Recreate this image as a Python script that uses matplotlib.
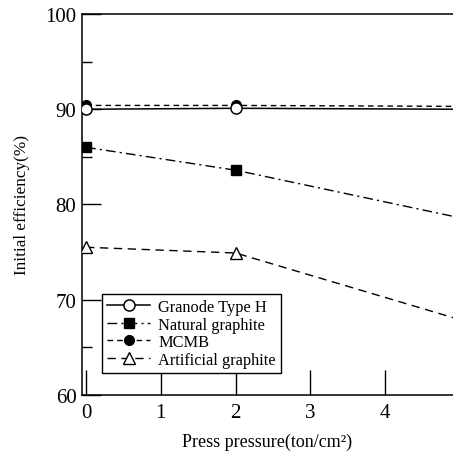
import matplotlib
matplotlib.use("Agg")
import matplotlib.pyplot as plt
from matplotlib.ticker import MultipleLocator

plt.rcParams['font.family'] = ['Liberation Serif', 'DejaVu Serif']

pressure = [0, 2, 5]
granode = [90.0, 90.1, 90.0]
natural = [86.0, 83.6, 78.6]
mcmb = [90.4, 90.4, 90.3]
artificial = [75.5, 74.9, 67.9]

fig = plt.figure(figsize=(4.53, 4.56), dpi=100)
ax = fig.add_axes([0.181, 0.132, 0.819, 0.835])

ax.plot(pressure, granode, '-', color='black', lw=1.1, marker='o', ms=8,
        mfc='white', mec='black', mew=1.1, label='Granode Type H', zorder=4)
ax.plot(pressure, natural, color='black', lw=1.0, ls=(0, (7, 3, 1.5, 3)), marker='s', ms=7,
        mfc='black', mec='black', label='Natural graphite', zorder=3)
ax.plot(pressure, mcmb, color='black', lw=1.0, ls=(0, (4, 3)), marker='o', ms=7,
        mfc='black', mec='black', label='MCMB', zorder=3)
ax.plot(pressure, artificial, color='black', lw=1.0, ls=(0, (6, 4)), marker='^', ms=8,
        mfc='white', mec='black', mew=1.0, label='Artificial graphite', zorder=3)

ax.set_xlim(-0.054, 4.91)
ax.set_ylim(60, 100)
ax.set_xticks([0, 1, 2, 3, 4])
ax.yaxis.set_major_locator(MultipleLocator(10))
ax.yaxis.set_minor_locator(MultipleLocator(5))
ax.tick_params(axis='y', which='major', direction='in', length=14, width=1.0, labelsize=15, pad=4)
ax.tick_params(axis='y', which='minor', direction='in', length=7, width=1.0)
ax.tick_params(axis='x', which='major', direction='in', length=18, width=1.0, labelsize=15, pad=6)
ax.spines['right'].set_visible(False)
for s in ['left', 'top', 'bottom']:
    ax.spines[s].set_linewidth(1.1)

# x label placed by hand so it sits where the original has it
fig.text(0.59, 0.031, 'Press pressure(ton/cm\u00b2)', fontsize=13, ha='center', va='center')
ax.set_ylabel('Initial efficiency(%)', fontsize=12.3, labelpad=11)

leg = ax.legend(loc='lower left', bbox_to_anchor=(0.055, 0.058), fontsize=11.8,
                frameon=True, fancybox=False, edgecolor='black', framealpha=1,
                handlelength=2.6, handletextpad=0.5, labelspacing=0.1,
                borderpad=0.3, borderaxespad=0)
leg.get_frame().set_linewidth(1.0)

fig.savefig('out.png', dpi=100)
